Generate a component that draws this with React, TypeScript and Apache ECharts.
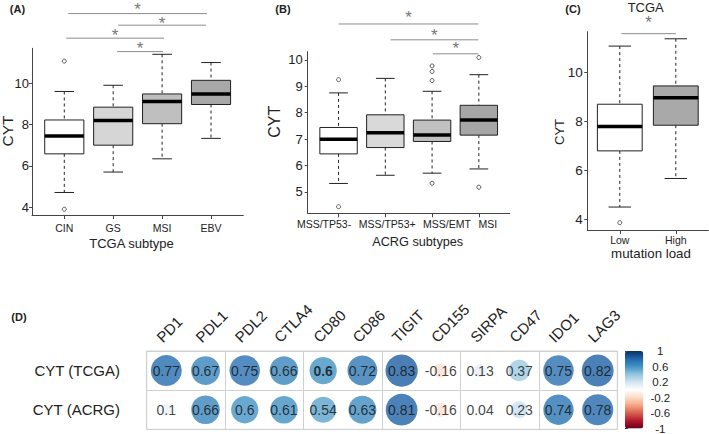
import React, { useEffect, useRef } from 'react';
import * as echarts from 'echarts';

const FONT = '"Liberation Sans", Arial, Helvetica, sans-serif';

// ---------- Panel A: TCGA subtype ----------
const tcgaSubtypes = ['CIN', 'GS', 'MSI', 'EBV'];
// [lower whisker, Q1, median, Q3, upper whisker]
const tcgaStats = [
  [4.71, 6.58, 7.45, 8.22, 9.6],
  [5.7, 7.0, 8.2, 8.84, 9.9],
  [6.34, 8.04, 9.12, 9.48, 11.4],
  [7.33, 8.97, 9.48, 10.14, 11.0],
];
const tcgaOutliers = [[1, 11.07], [1, 3.9]];
// [from, to, bracket level, star level]
const tcgaSig = [
  [1.08, 3.92, 13.37, 13.71],
  [2.1, 3.9, 12.81, 13.06],
  [1.04, 3.04, 12.18, 12.47],
  [2.08, 3.02, 11.53, 11.82],
];
const tcgaYTicks = [4, 6, 8, 10];

// ---------- Panel B: ACRG subtypes ----------
const acrgSubtypes = ['MSS/TP53-', 'MSS/TP53+', 'MSS/EMT', 'MSI'];
const acrgStats = [
  [5.32, 6.44, 6.99, 7.44, 8.75],
  [5.63, 6.68, 7.24, 7.92, 9.3],
  [5.71, 6.91, 7.16, 7.72, 8.81],
  [5.87, 7.15, 7.72, 8.28, 9.44],
];
const acrgOutliers = [
  [1, 9.25], [1, 4.44],
  [3, 9.77], [3, 9.56], [3, 9.22], [3, 5.33],
  [4, 10.09], [4, 5.18],
];
const acrgSig = [
  [1, 3.99, 11.36, 11.7],
  [2.11, 3.99, 10.76, 11.05],
  [3.02, 3.99, 10.23, 10.54],
];
const acrgYTicks = [5, 6, 7, 8, 9, 10];

// ---------- Panel C: mutation load ----------
const mutLoad = ['Low', 'High'];
const mutStats = [
  [4.5, 6.8, 7.8, 8.71, 11.09],
  [5.67, 7.85, 8.98, 9.46, 11.39],
];
const mutOutliers = [[1, 3.86]];
const mutSig = [[1.03, 2.0, 11.6, 12.16]];
const mutYTicks = [4, 6, 8, 10];

// ---------- Panel D: correlations ----------
const genes = ['PD1', 'PDL1', 'PDL2', 'CTLA4', 'CD80', 'CD86', 'TIGIT', 'CD155', 'SIRPA', 'CD47', 'IDO1', 'LAG3'];
const corrRows = ['CYT (TCGA)', 'CYT (ACRG)'];
const corrTCGA = [0.77, 0.67, 0.75, 0.66, 0.6, 0.72, 0.83, -0.16, 0.13, 0.37, 0.75, 0.82];
const corrACRG = [0.1, 0.66, 0.6, 0.61, 0.54, 0.63, 0.81, -0.16, 0.04, 0.23, 0.74, 0.78];
const colorbarTicks = [-1, -0.8, -0.6, -0.4, -0.2, 0, 0.2, 0.4, 0.6, 0.8, 1];
const colorbarLabels = [-1, -0.6, -0.2, 0.2, 0.6, 1];

// ---------- styles / layout ----------
const tcgaFills = ['#ffffff', '#d6d6d6', '#bfbfbf', '#a8a8a8'];
const acrgFills = ['#ffffff', '#d9d9d9', '#c0c0c0', '#a6a6a6'];
const mutFills = ['#ffffff', '#a9a9a9'];
const acrgLabelShift = [-0.31, 0.04, 0.32, 0.19];
const boldCells = [[4, 0]];
const RDBU = ['#67001F', '#B2182B', '#D6604D', '#F4A582', '#FDDBC7', '#FFFFFF', '#D1E5F0', '#92C5DE', '#4393C3', '#2166AC', '#053061'];
const CELL = 39.2;
const AXIS_COLOR = '#444';
const TEXT_COLOR = '#222';
const GENE_LABEL_OFFSET = [-7.3, -31];

function boxRender(params: any, api: any) {
  const x = api.value(0);
  const lo = api.value(1), q1 = api.value(2), med = api.value(3), q3 = api.value(4), hi = api.value(5);
  const hw = 0.4, cw = 0.2;
  const tl = api.coord([x - hw, q3]);
  const br = api.coord([x + hw, q1]);
  const m1 = api.coord([x - hw, med]);
  const m2 = api.coord([x + hw, med]);
  const cHi = api.coord([x, hi]);
  const cQ3 = api.coord([x, q3]);
  const cQ1 = api.coord([x, q1]);
  const cLo = api.coord([x, lo]);
  const capL = api.coord([x - cw, hi])[0];
  const capR = api.coord([x + cw, hi])[0];
  const fill = api.visual('color');
  const dash = { stroke: '#222', lineWidth: 1, lineDash: [3, 3] };
  const solid = { stroke: '#222', lineWidth: 1 };
  return {
    type: 'group',
    children: [
      { type: 'line', shape: { x1: cHi[0], y1: cHi[1], x2: cQ3[0], y2: cQ3[1] }, style: dash },
      { type: 'line', shape: { x1: cQ1[0], y1: cQ1[1], x2: cLo[0], y2: cLo[1] }, style: dash },
      { type: 'line', shape: { x1: capL, y1: cHi[1], x2: capR, y2: cHi[1] }, style: solid },
      { type: 'line', shape: { x1: capL, y1: cLo[1], x2: capR, y2: cLo[1] }, style: solid },
      { type: 'rect', shape: { x: tl[0], y: tl[1], width: br[0] - tl[0], height: br[1] - tl[1] }, style: { fill, stroke: '#222', lineWidth: 1 } },
      { type: 'line', shape: { x1: m1[0], y1: m1[1], x2: m2[0], y2: m2[1] }, style: { stroke: '#000', lineWidth: 3.5 } },
    ],
  };
}

function sigRender(params: any, api: any) {
  const a = api.coord([api.value(0), api.value(2)]);
  const b = api.coord([api.value(1), api.value(2)]);
  const s = api.coord([(api.value(0) + api.value(1)) / 2, api.value(3)]);
  return {
    type: 'group',
    children: [
      { type: 'line', shape: { x1: a[0], y1: a[1], x2: b[0], y2: b[1] }, style: { stroke: '#8c8c8c', lineWidth: 1 } },
      {
        type: 'text', x: s[0], y: s[1] + 3,
        style: { text: '*', fill: '#777', fontSize: 17, fontFamily: FONT, align: 'center', verticalAlign: 'middle', textAlign: 'center', textVerticalAlign: 'middle' },
      },
    ],
  };
}

function geneLabelRender(params: any, api: any) {
  const p = api.coord([api.value(0), api.value(1)]);
  return {
    type: 'text',
    x: p[0] + GENE_LABEL_OFFSET[0],
    y: p[1] + GENE_LABEL_OFFSET[1],
    rotation: Math.PI / 4,
    style: {
      text: genes[params.dataIndex], fill: TEXT_COLOR, fontSize: 15, fontFamily: FONT,
      align: 'left', verticalAlign: 'middle', textAlign: 'left', textVerticalAlign: 'middle',
    },
  };
}

function boxSeries(idx: number, stats: number[][], fills: string[]) {
  return {
    type: 'custom',
    xAxisIndex: idx,
    yAxisIndex: idx,
    renderItem: boxRender,
    clip: false,
    encode: { x: 0, y: [1, 2, 3, 4, 5] },
    data: stats.map((s, i) => ({ value: [i + 1, ...s], itemStyle: { color: fills[i] } })),
    silent: true,
  };
}

function outlierSeries(idx: number, pts: number[][]) {
  return {
    type: 'scatter',
    xAxisIndex: idx,
    yAxisIndex: idx,
    symbol: 'circle',
    symbolSize: 4,
    itemStyle: { color: '#ffffff', borderColor: '#333', borderWidth: 1 },
    data: pts,
    silent: true,
  };
}

function sigSeries(idx: number, sig: number[][]) {
  return {
    type: 'custom',
    xAxisIndex: idx,
    yAxisIndex: idx,
    renderItem: sigRender,
    clip: false,
    data: sig,
    silent: true,
  };
}

function valueXAxis(gridIndex: number, min: number, max: number, names: string[], labelPos: number[], fontSize: number, margin: number) {
  const ticks = names.map((_, i) => i + 1);
  return {
    gridIndex, type: 'value', min, max,
    axisLine: { show: true, onZero: false, lineStyle: { color: AXIS_COLOR, width: 1 } },
    axisTick: { show: true, customValues: ticks, length: 4, lineStyle: { color: AXIS_COLOR } },
    axisLabel: {
      show: true, customValues: labelPos, fontSize, margin, color: TEXT_COLOR, fontFamily: FONT,
      formatter: (v: number) => {
        let best = 0;
        labelPos.forEach((p, i) => { if (Math.abs(p - v) < Math.abs(labelPos[best] - v)) best = i; });
        return names[best];
      },
    },
    splitLine: { show: false },
  };
}

function valueYAxis(gridIndex: number, min: number, max: number, ticks: number[], fontSize: number, margin: number) {
  return {
    gridIndex, type: 'value', min, max,
    axisLine: { show: true, onZero: false, lineStyle: { color: AXIS_COLOR, width: 1 } },
    axisTick: { show: true, customValues: ticks, length: 3, lineStyle: { color: AXIS_COLOR } },
    axisLabel: { show: true, customValues: ticks, fontSize, margin, color: TEXT_COLOR, fontFamily: FONT, formatter: (v: number) => String(v) },
    splitLine: { show: false },
  };
}

function txt(text: string, x: number, y: number, fontSize: number, opts: any = {}) {
  return {
    type: 'text', x, y, rotation: opts.rotation || 0, silent: true,
    style: {
      text, fontSize, fontFamily: FONT, fontWeight: opts.bold ? 'bold' : 'normal', fill: opts.fill || TEXT_COLOR,
      align: 'center', verticalAlign: 'middle', textAlign: 'center', textVerticalAlign: 'middle',
    },
  };
}

const fmtCorr = (v: number) => String(v);

export default function App() {
  const ref = useRef<HTMLDivElement>(null);
  useEffect(() => {
    if (!ref.current) return;
    const chart = echarts.init(ref.current, null, { renderer: 'svg' });

    const corrData: any[] = [];
    [corrTCGA, corrACRG].forEach((row, r) => {
      row.forEach((v, c) => {
        const bold = boldCells.some(([bc, br]) => bc === c && br === r);
        corrData.push({ value: [c, r, v], label: bold ? { fontWeight: 'bold' } : undefined });
      });
    });

    const acrgLabelPos = acrgSubtypes.map((_, i) => i + 1 + acrgLabelShift[i]);
    const tcgaLabelPos = tcgaSubtypes.map((_, i) => i + 1);
    const mutLabelPos = mutLoad.map((_, i) => i + 1);

    const gridBase = { containLabel: false, outerBoundsMode: 'none' };

    const option: any = {
      animation: false,
      backgroundColor: '#ffffff',
      textStyle: { fontFamily: FONT },
      grid: [
        { ...gridBase, left: 32, top: 48.3, width: 211.3, height: 166.7 },
        { ...gridBase, left: 307.7, top: 51.7, width: 202, height: 161.6 },
        { ...gridBase, left: 587.3, top: 31.7, width: 121, height: 198.3 },
        { ...gridBase, left: 146.7, top: 351, width: 470.6, height: 78.3, show: true, borderColor: '#d0d0d0', borderWidth: 1 },
        { ...gridBase, left: 625, top: 351, width: 18.3, height: 77.6 },
      ],
      xAxis: [
        valueXAxis(0, 0.34, 4.66, tcgaSubtypes, tcgaLabelPos, 10.5, 7),
        valueXAxis(1, 0.34, 4.66, acrgSubtypes, acrgLabelPos, 10.5, 5.4),
        valueXAxis(2, 0.42, 2.58, mutLoad, mutLabelPos, 10.5, 4.7),
        {
          gridIndex: 3, type: 'category', position: 'top', data: genes, boundaryGap: true,
          axisLine: { show: false }, axisTick: { show: false },
          splitLine: { show: true, lineStyle: { color: '#d0d0d0', width: 1 } },
          axisLabel: { show: false },
        },
        { gridIndex: 4, type: 'value', min: 0, max: 1, show: false },
      ],
      yAxis: [
        valueYAxis(0, 3.62, 11.69, tcgaYTicks, 13, 3),
        valueYAxis(1, 4.19, 10.31, acrgYTicks, 13, 5),
        valueYAxis(2, 3.56, 11.68, mutYTicks, 13.5, 4.6),
        {
          gridIndex: 3, type: 'category', data: corrRows, inverse: true, boundaryGap: true,
          axisLine: { show: false }, axisTick: { show: false },
          splitLine: { show: true, lineStyle: { color: '#d0d0d0', width: 1 } },
          axisLabel: { fontSize: 15, color: TEXT_COLOR, fontFamily: FONT, margin: 26.7 },
        },
        {
          gridIndex: 4, type: 'value', min: -1, max: 1, position: 'right',
          axisLine: { show: false },
          axisTick: { show: true, customValues: colorbarTicks, length: 3, lineStyle: { color: '#333' } },
          axisLabel: { show: true, customValues: colorbarLabels, align: 'center', margin: 17, fontSize: 11.5, color: TEXT_COLOR, fontFamily: FONT, formatter: (v: number) => String(v) },
          splitLine: { show: false },
        },
      ],
      visualMap: [
        {
          type: 'continuous', min: -1, max: 1, dimension: 2, seriesIndex: 9,
          inRange: { color: RDBU },
          orient: 'vertical', left: 625, top: 351, itemWidth: 18.3, itemHeight: 77.6,
          padding: 0, calculable: false, hoverLink: false, text: null,
        },
      ],
      series: [
        boxSeries(0, tcgaStats, tcgaFills),
        outlierSeries(0, tcgaOutliers),
        sigSeries(0, tcgaSig),
        boxSeries(1, acrgStats, acrgFills),
        outlierSeries(1, acrgOutliers),
        sigSeries(1, acrgSig),
        boxSeries(2, mutStats, mutFills),
        outlierSeries(2, mutOutliers),
        sigSeries(2, mutSig),
        {
          type: 'scatter', xAxisIndex: 3, yAxisIndex: 3,
          data: corrData,
          symbol: 'circle',
          symbolSize: (val: number[]) => 0.9 * Math.sqrt(Math.abs(val[2])) * CELL,
          label: {
            show: true, position: 'inside', fontSize: 14, color: '#111', fontFamily: FONT,
            formatter: (p: any) => fmtCorr(p.value[2]),
          },
          silent: true,
        },
        {
          // column (gene) labels, rotated 45 degrees above the first row
          type: 'custom', xAxisIndex: 3, yAxisIndex: 3,
          renderItem: geneLabelRender,
          clip: false,
          data: genes.map((_, c) => [c, 0]),
          silent: true,
        },
      ],
      graphic: [
        txt('(A)', 17.5, 9, 11, { bold: true }),
        txt('(B)', 283, 8.5, 11, { bold: true }),
        txt('(C)', 573, 8.5, 11, { bold: true }),
        txt('(D)', 19, 316.5, 11, { bold: true }),
        txt('TCGA', 645.7, 7, 13),
        txt('TCGA subtype', 131.5, 243.3, 13),
        txt('ACRG subtypes', 417.7, 241.7, 12.7),
        txt('mutation load', 651, 253.3, 13.3),
        txt('CYT', 7, 131, 15.5, { rotation: Math.PI / 2 }),
        txt('CYT', 274.5, 121.7, 16, { rotation: Math.PI / 2 }),
        txt('CYT', 559.7, 132, 13, { rotation: Math.PI / 2 }),
      ],
    };

    chart.setOption(option);
    return () => chart.dispose();
  }, []);

  return <div ref={ref} style={{ position: 'fixed', left: 0, top: 0, width: 709, height: 434 }} />;
}
